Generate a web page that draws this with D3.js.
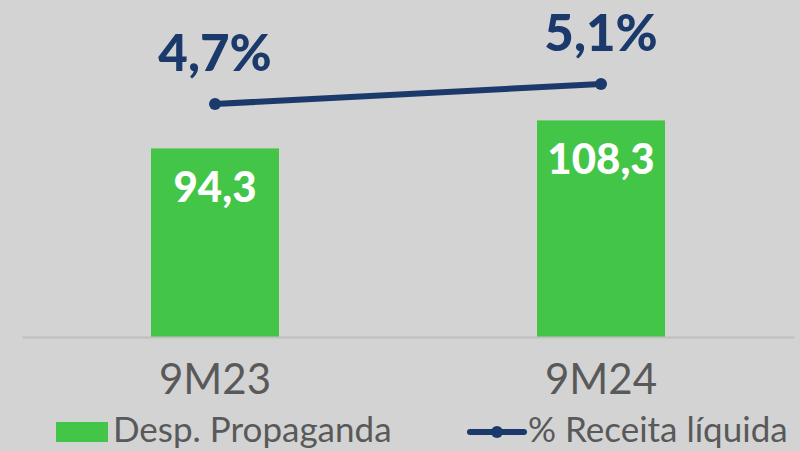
<!DOCTYPE html>
<html><head><meta charset="utf-8">
<script src="https://cdn.jsdelivr.net/npm/d3@7"></script>
<style>body{margin:0;background:#d3d3d3}svg{display:block}</style>
</head><body>
<svg id="c" width="800" height="451"></svg>
<script>
const categories = ["9M23", "9M24"];
const despesa = [94.3, 108.3];
const despesaLabels = ["94,3", "108,3"];
const receitaPct = [4.7, 5.1];
const receitaLabels = ["4,7%", "5,1%"];
const legendNames = ["Desp. Propaganda", "% Receita líquida"];

const W = 800, H = 451;
const svg = d3.select("#c");
svg.append("rect").attr("width", W).attr("height", H).attr("fill", "#d3d3d3");
const font = "Lato, 'Open Sans', sans-serif";
const green = "#43c548", navy = "#1b3a6b";

const x = d3.scaleBand().domain(categories).range([22, 794]).padding(0);
const y = d3.scaleLinear().domain([0, 150]).range([337, 37]);
const y2 = d3.scaleLinear().domain([0, 6]).range([339, 39]);
const bw = 128;

// bars
svg.selectAll("rect.bar").data(categories).enter().append("rect")
  .attr("x", d => x(d) + x.bandwidth() / 2 - bw / 2)
  .attr("y", (d, i) => y(despesa[i]))
  .attr("width", bw)
  .attr("height", (d, i) => y(0) - y(despesa[i]))
  .attr("fill", green);

// axis line
const xAxis = d3.axisBottom(x).tickSize(0).tickPadding(27);
const gx = svg.append("g").attr("transform", `translate(0,${y(0)})`).call(xAxis);
gx.select(".domain").attr("stroke", "#bfbfbf").attr("stroke-width", 2);
gx.selectAll("text").attr("font-family", font).attr("font-size", 42)
  .attr("fill", "#595959").attr("dy", "0.71em");

// bar labels
svg.selectAll("text.bl").data(categories).enter().append("text")
  .attr("x", d => x(d) + x.bandwidth() / 2)
  .attr("y", (d, i) => y(despesa[i]) + 54)
  .attr("text-anchor", "middle").attr("font-family", font).attr("font-weight", 900)
  .attr("font-size", 42).attr("fill", "#ffffff")
  .text((d, i) => despesaLabels[i]);

// line
const line = d3.line().x((d, i) => x(categories[i]) + x.bandwidth() / 2).y(d => y2(d));
svg.append("path").datum(receitaPct).attr("d", line).attr("fill", "none")
  .attr("stroke", navy).attr("stroke-width", 6).attr("stroke-linecap", "round");
svg.selectAll("circle.pt").data(receitaPct).enter().append("circle")
  .attr("cx", (d, i) => x(categories[i]) + x.bandwidth() / 2)
  .attr("cy", d => y2(d)).attr("r", 6).attr("fill", navy);
svg.selectAll("text.ll").data(receitaPct).enter().append("text")
  .attr("x", (d, i) => x(categories[i]) + x.bandwidth() / 2)
  .attr("y", d => y2(d) - 33)
  .attr("text-anchor", "middle").attr("font-family", font).attr("font-weight", 900)
  .attr("font-size", 51).attr("fill", navy)
  .text((d, i) => receitaLabels[i]);

// legend
svg.append("rect").attr("x", 56).attr("y", 422).attr("width", 52).attr("height", 20).attr("fill", green);
svg.append("text").attr("x", 113).attr("y", 442).attr("font-family", font).attr("font-size", 35)
  .attr("fill", "#595959").text(legendNames[0]);
svg.append("line").attr("x1", 470).attr("x2", 524).attr("y1", 432).attr("y2", 432)
  .attr("stroke", navy).attr("stroke-width", 6).attr("stroke-linecap", "round");
svg.append("circle").attr("cx", 497).attr("cy", 432).attr("r", 6).attr("fill", navy);
svg.append("text").attr("x", 528).attr("y", 442).attr("font-family", font).attr("font-size", 35)
  .attr("fill", "#595959").text(legendNames[1]);
</script>
</body></html>
